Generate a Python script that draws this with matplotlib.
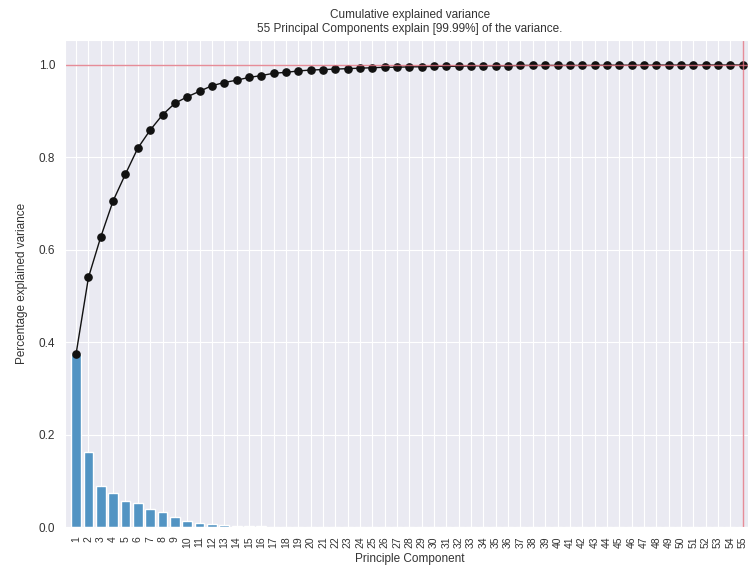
import matplotlib
matplotlib.use("Agg")
import matplotlib.pyplot as plt
import seaborn as sns

# explained variance ratio per component (bars)
explained = [0.375, 0.162, 0.088, 0.073, 0.057, 0.052, 0.040, 0.032, 0.022, 0.012,
             0.009, 0.006, 0.004, 0.002, 0.002, 0.002, 0.001, 0.0005, 0.0004, 0.0003,
             0.0003, 0.0002, 0.0002, 0.0002, 0.0001, 0.0001, 0.0001, 0.0001, 0.0001, 0.0001,
             0.0001, 0.0001, 0.0, 0.0, 0.0, 0.0, 0.0, 0.0, 0.0, 0.0,
             0.0, 0.0, 0.0, 0.0, 0.0, 0.0, 0.0, 0.0, 0.0, 0.0,
             0.0, 0.0, 0.0, 0.0, 0.0]

# cumulative explained variance (dots)
cumulative = [0.375, 0.540, 0.628, 0.706, 0.764, 0.820, 0.859, 0.892, 0.917, 0.931,
              0.943, 0.955, 0.962, 0.967, 0.973, 0.977, 0.982, 0.984, 0.987, 0.989,
              0.990, 0.991, 0.992, 0.993, 0.994, 0.995, 0.995, 0.996, 0.996, 0.997,
              0.997, 0.997, 0.998, 0.998, 0.998, 0.998, 0.999, 0.999, 0.999, 0.999,
              0.999, 0.999, 0.999, 0.9995, 0.9995, 0.9995, 0.9995, 0.9997, 0.9997, 0.9997,
              0.9998, 0.9998, 0.9999, 0.9999, 0.9999]

components = list(range(1, len(cumulative) + 1))
n_components = 55
explained_pct = 99.99

sns.set_style("darkgrid")
plt.rcParams["font.family"] = ["Liberation Sans", "DejaVu Sans"]

fig = plt.figure(figsize=(7.48, 5.70), dpi=100)
ax = fig.add_axes([65 / 748, 43 / 570, 690 / 748, 487 / 570])

ax.bar(components, explained, width=0.8, color="#5294C3")
ax.plot(components, cumulative, "o-", color="#111111", markersize=5.2, linewidth=1.0)
ax.axhline(1.0, color="#E0707E", linewidth=1.0, alpha=0.8)
ax.axvline(n_components, color="#E0707E", linewidth=1.0, alpha=0.8)

ax.set_xticks(components)
ax.set_xticklabels([str(c) for c in components], rotation=90, fontsize=7.5, color="#333333")
ax.set_yticks([0.0, 0.2, 0.4, 0.6, 0.8, 1.0])
ax.set_yticklabels(["0.0", "0.2", "0.4", "0.6", "0.8", "1.0"], fontsize=8.5, color="#333333")
ax.tick_params(axis="x", pad=3)
ax.set_xlim(0.1, 56.0)
ax.set_ylim(0, 1.054)

ax.set_xlabel("Principle Component", fontsize=8.5, labelpad=4, color="#333333")
ax.set_ylabel("Percentage explained variance", fontsize=8.5, labelpad=8, color="#333333")
ax.set_title("Cumulative explained variance\n"
             f"{n_components} Principal Components explain [{explained_pct}%] of the variance.",
             fontsize=8.5, pad=6, color="#333333")

fig.savefig("out.png", dpi=100)
